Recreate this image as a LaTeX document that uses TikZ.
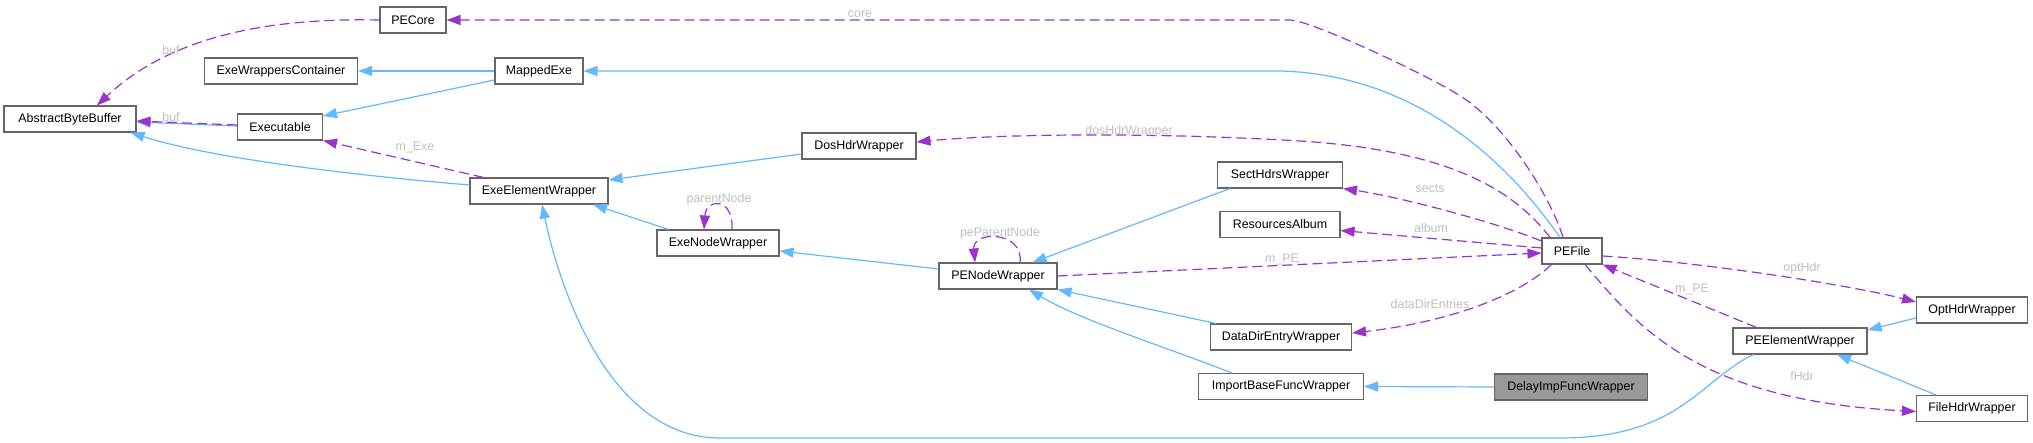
\documentclass[tikz,border=0pt]{standalone}
\usepackage{fontspec}
\setmainfont{Liberation Sans}
\usetikzlibrary{calc,arrows.meta}
\definecolor{inhc}{HTML}{63B8FF}
\definecolor{depc}{HTML}{9A32CD}
\definecolor{lblc}{HTML}{BEBEBE}
\definecolor{boxc}{HTML}{666666}
\definecolor{hlc}{HTML}{999999}
\begin{document}
\begin{tikzpicture}[x=1pt,y=-1pt,
  cls/.style={draw=boxc,line width=1.1pt,fill=white,minimum height=26pt,inner xsep=2pt,inner ysep=0pt,font=\fontsize{12.4}{14}\selectfont,text=black},
  hl/.style={cls,fill=hlc},
  inh/.style={draw=inhc,line width=1.2pt,-{Triangle[length=14pt,width=10pt]}},
  dep/.style={draw=depc,line width=1.2pt,dash pattern=on 10pt off 5pt,-{Triangle[length=14pt,width=10pt]}},
  lbl/.style={text=lblc,font=\fontsize{12.4}{14}\selectfont,inner sep=0pt}]
\useasboundingbox (0,0) rectangle (2033,443);
% nodes
\node[cls,minimum width=66pt]  (pecore)     at (413,20)    {PECore};
\node[cls,minimum width=153pt] (ewc)        at (281,71)    {ExeWrappersContainer};
\node[cls,minimum width=88pt]  (mappedexe)  at (539,71)    {MappedExe};
\node[cls,minimum width=132pt] (abb)        at (70,119)    {AbstractByteBuffer};
\node[cls,minimum width=85pt]  (executable) at (280,127)   {Executable};
\node[cls,minimum width=138pt] (eew)        at (539,191)   {ExeElementWrapper};
\node[cls,minimum width=114pt] (doshdr)     at (859,146)   {DosHdrWrapper};
\node[cls,minimum width=125pt] (secthdrs)   at (1280,175)  {SectHdrsWrapper};
\node[cls,minimum width=120pt] (resalbum)   at (1280,224.5){ResourcesAlbum};
\node[cls,minimum width=122pt] (exenode)    at (718,243)   {ExeNodeWrapper};
\node[cls,minimum width=118pt] (penode)     at (998,276)   {PENodeWrapper};
\node[cls,minimum width=60pt]  (pefile)     at (1572,251)  {PEFile};
\node[cls,minimum width=141pt] (datadir)    at (1281,337)  {DataDirEntryWrapper};
\node[cls,minimum width=165pt] (importbase) at (1281,386.5){ImportBaseFuncWrapper};
\node[hl,minimum width=153pt]  (delayimp)   at (1571,387)  {DelayImpFuncWrapper};
\node[cls,minimum width=111pt] (opthdr)     at (1972,310)  {OptHdrWrapper};
\node[cls,minimum width=134pt] (peelem)     at (1800,341)  {PEElementWrapper};
\node[cls,minimum width=111pt] (filehdr)    at (1972,408.5){FileHdrWrapper};
% edges
\draw[dep] (pecore.west) .. controls (280,18) and (175,32) .. ($(abb.north)+(27,0)$);
\draw[dep] ($(pefile.north)+(-9,0)$) .. controls (1550,195) and (1505,125) .. (1462,97) .. controls (1430,76) and (1310,20) .. (1290,20) -- (pecore.east);
\draw[inh] ($(pefile.north)+(-12,0)$) .. controls (1520,180) and (1430,75) .. (1280,71) -- (mappedexe.east);
\draw[inh] (mappedexe.west) -- (ewc.east);
\draw[inh] ($(mappedexe.west)+(0,9)$) -- ($(executable.east)+(0,-11)$);
\draw[inh] ($(executable.west)+(0,-1)$) -- ($(abb.east)+(0,3)$);
\draw[dep] ($(executable.west)+(0,-2)$) -- ($(abb.east)+(0,2)$);
\draw[inh] ($(eew.west)+(0,-6)$) .. controls (350,175) and (210,158) .. ($(abb.south east)+(-6,0)$);
\draw[dep] ($(eew.north west)+(14,0)$) -- (executable.south east);
\draw[inh] ($(exenode.north west)+(12,0)$) -- ($(eew.south)+(54,0)$);
\draw[dep] ($(exenode.north)+(14,0)$) .. controls ($(exenode.north)+(16,-32)$) and ($(exenode.north)+(-12,-32)$) .. ($(exenode.north)+(-14,0)$);
\draw[inh] ($(doshdr.west)+(0,8)$) -- ($(eew.east)+(0,-11)$);
\draw[dep] ($(pefile.north)+(-22,0)$) .. controls (1510,185) and (1440,150) .. (1300,141) .. controls (1150,132) and (1000,134) .. ($(doshdr.east)+(0,-4)$);
\draw[inh] ($(secthdrs.south west)+(13,0)$) -- ($(penode.north east)+(-25,0)$);
\draw[dep] ($(pefile.west)+(0,-10)$) .. controls (1495,222) and (1400,197) .. (secthdrs.south east);
\draw[dep] ($(pefile.west)+(0,-3)$) -- ($(resalbum.east)+(0,6)$);
\draw[dep] (penode.east) -- ($(pefile.west)+(0,2)$);
\draw[dep] ($(penode.north)+(22,0)$) .. controls ($(penode.north)+(26,-32)$) and ($(penode.north)+(-26,-32)$) .. ($(penode.north)+(-23,0)$);
\draw[inh] ($(penode.west)+(0,-7)$) -- ($(exenode.east)+(0,8)$);
\draw[inh] ($(datadir.north west)+(6,0)$) -- (penode.south east);
\draw[dep] ($(pefile.south west)+(10,0)$) .. controls (1520,295) and (1450,322) .. ($(datadir.east)+(0,-4)$);
\draw[inh] ($(importbase.north west)+(34,0)$) .. controls (1160,345) and (1080,320) .. ($(penode.south)+(31,0)$);
\draw[inh] (delayimp.west) -- (importbase.east);
\draw[dep] ($(pefile.east)+(0,5)$) .. controls (1700,262) and (1850,285) .. ($(opthdr.west)+(0,-8)$);
\draw[dep] ($(peelem.north west)+(24,0)$) -- (pefile.south east);
\draw[inh] ($(opthdr.west)+(0,8)$) -- ($(peelem.east)+(0,-11)$);
\draw[inh] ($(filehdr.north west)+(20,0)$) -- ($(peelem.south)+(37,0)$);
\draw[dep] ($(pefile.south)+(13,0)$) .. controls (1640,330) and (1700,400) .. ($(filehdr.west)+(0,3)$);
\draw[inh] ($(peelem.south west)+(21,0)$) .. controls (1700,380) and (1680,438) .. (1560,438) -- (720,438) .. controls (610,438) and (560,290) .. ($(eew.south)+(3,0)$);
% labels
\node[lbl] (l1) at (171,50) {buf};
\node[lbl] (l2) at (860,14) {core};
\node[lbl] (l3) at (171,117) {buf};
\node[lbl] (l4) at (415,147) {m\_Exe};
\node[lbl] (l5) at (719,199) {parentNode};
\node[lbl] (l6) at (1000,233) {peParentNode};
\node[lbl] (l7) at (1129,131) {dosHdrWrapper};
\node[lbl] (l8) at (1430,189) {sects};
\node[lbl] (l9) at (1431,228) {album};
\node[lbl] (l10) at (1282,259) {m\_PE};
\node[lbl] (l11) at (1430,304) {dataDirEntries};
\node[lbl] (l12) at (1802,268) {optHdr};
\node[lbl] (l13) at (1692,289) {m\_PE};
\node[lbl] (l14) at (1802,376) {fHdr};
\end{tikzpicture}
\end{document}
